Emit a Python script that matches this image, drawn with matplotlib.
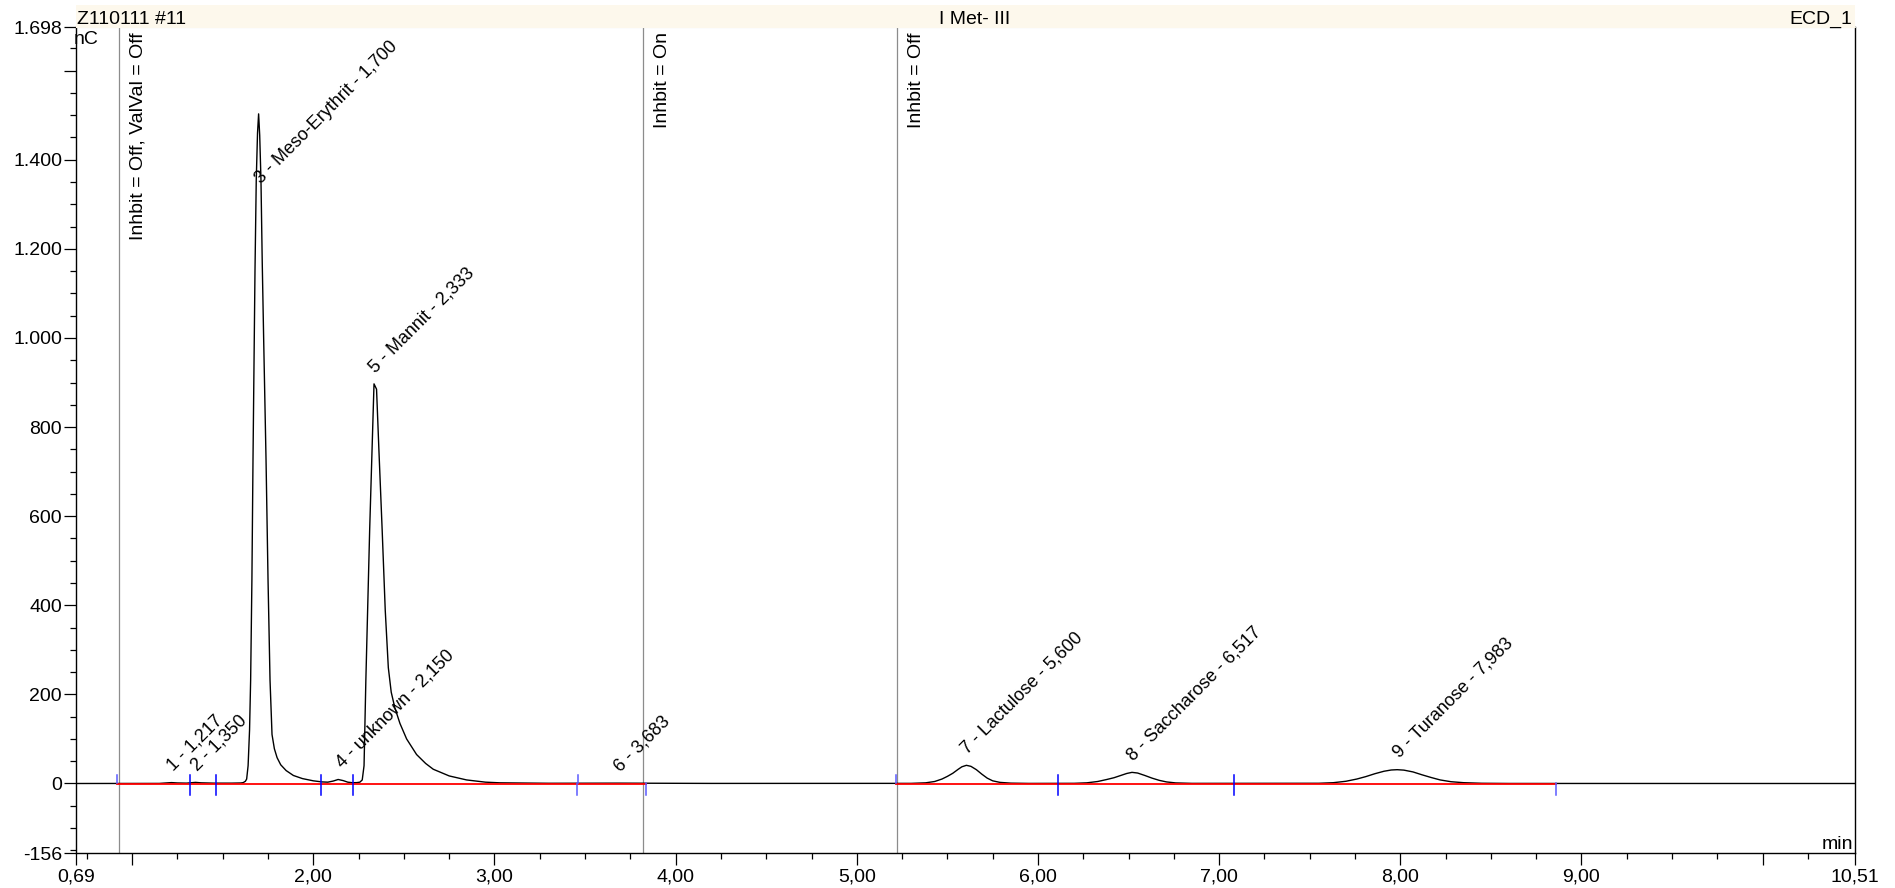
import matplotlib
matplotlib.use("Agg")
import matplotlib.pyplot as plt
from matplotlib.patches import Rectangle

plt.rcParams["font.family"] = ["Liberation Sans", "DejaVu Sans"]
plt.rcParams["font.size"] = 14

# chromatogram trace (min, nC)
trace_time = [
    0.69, 0.95, 1.15, 1.20, 1.217, 1.25, 1.30, 1.33, 1.35, 1.38, 1.45, 1.55,
    1.60, 1.613, 1.625, 1.632, 1.640, 1.648, 1.654, 1.661, 1.667, 1.674, 1.678,
    1.685, 1.692, 1.698, 1.704, 1.711, 1.718, 1.726, 1.739, 1.750, 1.761, 1.772,
    1.785, 1.800, 1.820, 1.850, 1.890, 1.940, 2.000, 2.049, 2.080, 2.110, 2.137,
    2.165, 2.190, 2.215, 2.240, 2.257, 2.270, 2.280, 2.290, 2.300, 2.311, 2.324,
    2.335, 2.349, 2.362, 2.380, 2.397, 2.414, 2.430, 2.450, 2.478, 2.515, 2.570,
    2.620, 2.662, 2.750, 2.846, 2.950, 3.030, 3.300, 3.683, 4.200, 5.000, 5.300,
    5.380, 5.430, 5.470, 5.500, 5.530, 5.560, 5.580, 5.605, 5.630, 5.660, 5.690,
    5.720, 5.750, 5.790, 5.850, 5.950, 6.200, 6.270, 6.330, 6.380, 6.420, 6.460,
    6.490, 6.519, 6.550, 6.590, 6.630, 6.670, 6.710, 6.760, 6.850, 7.550, 7.630,
    7.700, 7.760, 7.810, 7.860, 7.910, 7.950, 7.983, 8.020, 8.070, 8.120, 8.170,
    8.220, 8.280, 8.350, 8.450, 8.600, 10.51,
]
trace_signal = [
    0, 0, 0.2, 1.5, 2, 1.2, 0.8, 1.8, 2.5, 1.5, 0.8, 0.8,
    1.2, 2, 5, 10, 40, 120, 232, 457, 726, 995, 1150,
    1355, 1460, 1503, 1455, 1355, 1170, 995, 726, 457, 232, 110,
    78, 58, 42, 29, 18, 11, 6, 3.5, 3, 5.5, 9,
    6.5, 3, 1.8, 2, 3, 8, 40, 232, 389, 569, 749,
    897, 885, 749, 569, 389, 260, 205, 170, 135, 100, 65,
    45, 32, 17, 8, 3, 1.5, 0.5, 0.8, 0.2, 0.1, 0.3,
    1.5, 4.5, 10, 16, 23, 32, 37.5, 40.8, 38.5, 31, 21,
    12, 6, 2.5, 0.8, 0.2, 0.4, 1.5, 4.5, 9, 13, 18.5,
    22.5, 25, 23.5, 18, 12, 7, 3.5, 1.3, 0.3, 0.5, 1.8,
    5, 10, 15.5, 22, 27.5, 30.3, 31, 30, 26, 19.5, 13.5,
    8, 4, 1.8, 0.5, 0.1, 0,
]

# peak table
peak_numbers = [1, 2, 3, 4, 5, 6, 7, 8, 9]
peak_names = ["", "", "Meso-Erythrit", "unknown", "Mannit", "", "Lactulose", "Saccharose", "Turanose"]
peak_times = [1.217, 1.350, 1.700, 2.150, 2.333, 3.683, 5.600, 6.517, 7.983]
peak_heights = [2, 2.5, 1503, 9, 897, 0.8, 40.8, 25, 31]

# integration baselines (red) and delimiters (blue)
baseline_start = [0.918, 5.217]
baseline_end = [3.838, 8.861]
delimiter_times = [0.918, 1.317, 1.464, 2.045, 2.218, 3.455, 3.461, 3.838, 5.217, 6.113, 7.080, 8.861]
delimiter_kind = ["up", "both", "both", "both", "both", "down", "up", "down", "up", "both", "both", "down"]

# program events
event_times = [0.927, 3.819, 5.223]
event_texts = ["Inhbit = Off, ValVal = Off", "Inhbit = On", "Inhbit = Off"]

# axes ticks
x_tick_values = [0.69, 1, 2, 3, 4, 5, 6, 7, 8, 9, 10, 10.51]
x_tick_labels = ["0,69", "", "2,00", "3,00", "4,00", "5,00", "6,00", "7,00", "8,00", "9,00", "", "10,51"]
y_tick_values = [-156, 0, 200, 400, 600, 800, 1000, 1200, 1400, 1600, 1698]
y_tick_labels = ["-156", "0", "200", "400", "600", "800", "1.000", "1.200", "1.400", "", "1.698"]

W, H = 1895, 888
fig = plt.figure(figsize=(W / 100, H / 100), dpi=100)
fig.patch.set_facecolor("white")
ax = fig.add_axes([76 / W, 35 / H, 1779 / W, 826 / H])
ax.set_xlim(0.69, 10.51)
ax.set_ylim(-156, 1698)

# nC per pixel, min per pixel (for small offsets in data units)
nc_px = (1698 + 156) / 826.0
min_px = (10.51 - 0.69) / 1779.0

ax.plot(trace_time, trace_signal, color="black", lw=1.0, zorder=3)

for s, e in zip(baseline_start, baseline_end):
    ax.plot([s, e], [-0.5, -0.5], color="#ff0000", lw=1.3, zorder=4)

for t, k in zip(delimiter_times, delimiter_kind):
    top = 20 if k in ("up", "both") else 0
    bot = -26 if k in ("down", "both") else 0
    col = "#0000ff" if k == "both" else "#5a5aff"
    ax.plot([t, t], [bot, top], color=col, lw=1.1, zorder=5)

for t, txt in zip(event_times, event_texts):
    ax.axvline(t, color="#8c8c8c", lw=0.9, zorder=2)
    ax.annotate(txt, xy=(t, 1698), xytext=(11, -5), textcoords="offset pixels",
                rotation=90, ha="left", va="top", fontsize=14)

for n, name, t, h in zip(peak_numbers, peak_names, peak_times, peak_heights):
    label = f"{n} - {name} - {t:.3f}" if name else f"{n} - {t:.3f}"
    label = label.replace(".", ",")
    ly = min(h + 11 * nc_px, 1346)
    ax.text(t + 2 * min_px, ly, label, rotation=45, rotation_mode="anchor",
            ha="left", va="baseline", fontsize=13, zorder=6)

# ticks
ax.set_xticks(x_tick_values)
ax.set_xticklabels(x_tick_labels)
minor_x = [0.75 + 0.25 * i for i in range(40)]
minor_x = [v for v in minor_x if v < 10.5 and abs(v - round(v)) > 1e-6]
ax.set_xticks(minor_x, minor=True)
ax.set_yticks(y_tick_values)
ax.set_yticklabels(y_tick_labels)
minor_y = [v for v in range(-150, 1700, 50) if v % 200 != 0]
ax.set_yticks(minor_y, minor=True)
ax.tick_params(axis="both", which="major", direction="out", length=8.5, width=0.9, labelsize=14)
ax.tick_params(axis="both", which="minor", direction="out", length=4.5, width=0.9)
ax.tick_params(axis="x", pad=3)
ax.tick_params(axis="y", pad=1.5)

for side in ("left", "right", "bottom"):
    ax.spines[side].set_color("black")
    ax.spines[side].set_linewidth(1.0)
ax.spines["top"].set_color("#d9d6cc")

# header band
fig.patches.append(Rectangle((76 / W, (H - 28) / H), 1779 / W, 23 / H, transform=fig.transFigure,
                             facecolor="#fdf8ec", edgecolor="none", zorder=0))
fig.text(77 / W, (H - 24) / H, "Z110111 #11", ha="left", va="baseline", fontsize=14)
fig.text(975 / W, (H - 24) / H, "I Met- III", ha="center", va="baseline", fontsize=14)
fig.text(1852 / W, (H - 24) / H, "ECD_1", ha="right", va="baseline", fontsize=14)

fig.text(74 / W, (H - 31) / H, "nC", ha="left", va="top", fontsize=14)
fig.text(1853 / W, (H - 849) / H, "min", ha="right", va="baseline", fontsize=14)

fig.savefig("out.png", dpi=100)
